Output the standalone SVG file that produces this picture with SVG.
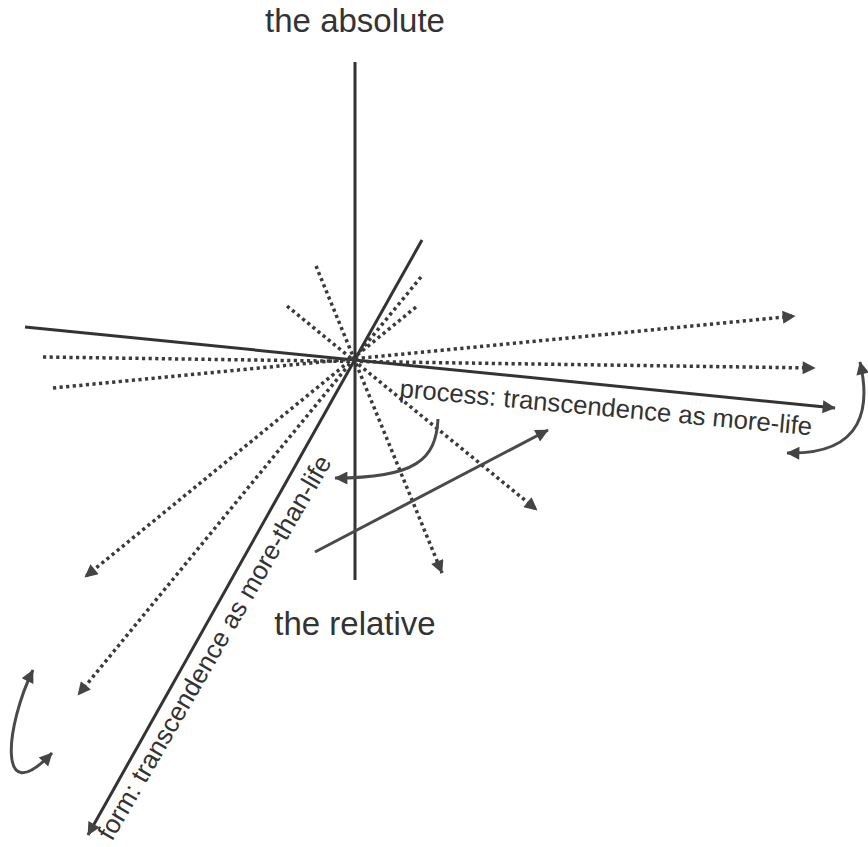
<svg xmlns="http://www.w3.org/2000/svg" width="868" height="847" viewBox="0 0 868 847">
<style>
  .solid{fill:none;stroke:#333;stroke-width:3}
  .dot{fill:none;stroke:#3a3a3a;stroke-width:3.5;stroke-dasharray:3.2 3.4}
  .curve{fill:none;stroke:#4a4a4a;stroke-width:3}
  .lbl{font-family:"Liberation Sans",Arial,sans-serif;fill:#333}
</style>
<defs>
  <marker id="ah" viewBox="0 0 10 10" refX="9.5" refY="5" markerWidth="18" markerHeight="13" markerUnits="userSpaceOnUse" orient="auto-start-reverse">
    <path d="M0,0 L10,5 L0,10 z" fill="#444"/>
  </marker>
</defs>
<g id="connectors">
  <line id="vertical-axis" class="solid" x1="355" y1="62" x2="355" y2="580"/>
  <line id="process-axis" class="solid" x1="25" y1="327" x2="835" y2="408" marker-end="url(#ah)"/>
  <line id="form-axis" class="solid" x1="422" y1="240" x2="88" y2="835" marker-end="url(#ah)"/>
  <line class="dot" x1="53" y1="388" x2="795" y2="316" marker-end="url(#ah)"/>
  <line class="dot" x1="43" y1="357" x2="815" y2="368" marker-end="url(#ah)"/>
  <line class="dot" x1="316" y1="266" x2="442" y2="573" marker-end="url(#ah)"/>
  <line class="dot" x1="287" y1="306" x2="537" y2="510" marker-end="url(#ah)"/>
  <line class="dot" x1="421" y1="277" x2="78" y2="695" marker-end="url(#ah)"/>
  <line class="dot" x1="416" y1="307" x2="85" y2="577" marker-end="url(#ah)"/>
  <path class="curve" d="M438,419 C436,460 415,478 335,478" marker-end="url(#ah)"/>
  <line class="curve" x1="315" y1="552" x2="548" y2="430" marker-end="url(#ah)"/>
  <path class="curve" d="M860,362 C870,405 866,455 787,453" marker-start="url(#ah)" marker-end="url(#ah)"/>
  <path class="curve" d="M33,670 C6,725 -4,812 52,753" marker-start="url(#ah)" marker-end="url(#ah)"/>
</g>
<g id="label-absolute"><text class="lbl" x="355" y="32" font-size="33" text-anchor="middle">the absolute</text></g>
<g id="label-relative"><text class="lbl" x="355" y="635" font-size="33" text-anchor="middle">the relative</text></g>
<g id="label-process"><text class="lbl" font-size="25.7" transform="translate(399,397) rotate(5.3)">process: transcendence as more-life</text></g>
<g id="label-form"><text class="lbl" font-size="26" transform="translate(112,842) rotate(-59.9)">form: transcendence as more-than-life</text></g>
</svg>
